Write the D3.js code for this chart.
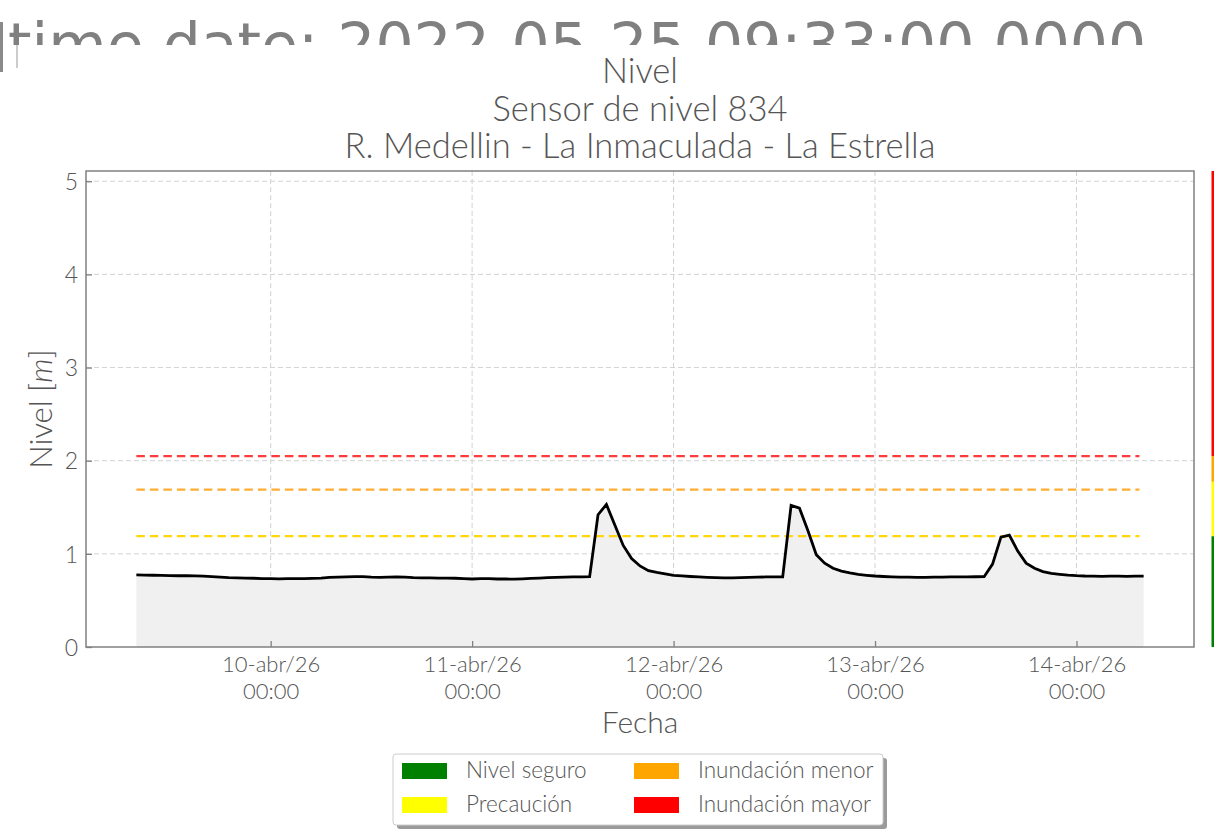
<!DOCTYPE html>
<html><head><meta charset="utf-8">
<script src="https://cdn.jsdelivr.net/npm/d3@7"></script>
<style>
html,body{margin:0;padding:0;background:#fff;}
svg{display:block;}
text{font-family:Lato,"Open Sans",sans-serif;font-weight:300;}
</style></head>
<body><svg id="chart" width="1214" height="833"></svg>
<script>
// ---- data ----
const headerText = "time date: 2022-05-25 09:33:00.0000";
const titleLines = ["Nivel", "Sensor de nivel 834", "R. Medellin - La Inmaculada - La Estrella"];
const xLabel = "Fecha";
const seriesStart = "2026-04-09T08:00:00"; // hourly readings
const nivel = [
 0.775,0.772,0.770,0.768,0.767,0.765,0.765,0.763,0.760,0.755,
 0.750,0.745,0.743,0.740,0.738,0.735,0.733,0.732,0.733,0.735,
 0.735,0.737,0.740,0.747,0.750,0.752,0.755,0.755,0.750,0.748,
 0.750,0.752,0.750,0.745,0.742,0.742,0.740,0.740,0.738,0.735,
 0.730,0.735,0.733,0.730,0.730,0.728,0.732,0.737,0.740,0.745,
 0.748,0.750,0.752,0.753,0.755,1.420,1.530,1.310,1.090,0.950,
 0.870,0.820,0.800,0.785,0.770,0.763,0.757,0.752,0.748,0.745,
 0.742,0.742,0.745,0.748,0.750,0.752,0.753,0.753,1.520,1.490,
 1.250,0.990,0.900,0.845,0.815,0.795,0.780,0.770,0.762,0.757,
 0.753,0.750,0.750,0.748,0.748,0.750,0.750,0.752,0.753,0.753,
 0.754,0.755,0.890,1.180,1.200,1.030,0.900,0.845,0.810,0.790,
 0.780,0.772,0.766,0.762,0.760,0.758,0.760,0.760,0.758,0.760,
 0.760
];
const thresholdNames = ["Nivel seguro", "Precaución", "Inundación menor", "Inundación mayor"];
const thresholdColors = ["#008000", "#ffff00", "#ffa500", "#ff0000"];
const thresholdLineValues = [1.19, 1.69, 2.05];          // Precaución, menor, mayor
const thresholdLineColors = ["#ffd60a", "#ffad33", "#ff3b3b"];
const bandLimits = [0, 1.19, 1.775, 2.05, 5.11];
const yTicks = [0, 1, 2, 3, 4, 5];
const xTickDates = ["2026-04-10T00:00:00","2026-04-11T00:00:00","2026-04-12T00:00:00","2026-04-13T00:00:00","2026-04-14T00:00:00"];
const xTickLine1 = ["10-abr/26","11-abr/26","12-abr/26","13-abr/26","14-abr/26"];
const xTickLine2 = ["00:00","00:00","00:00","00:00","00:00"];
const xDomain = ["2026-04-09T02:00:00", "2026-04-14T14:00:00"];
const yDomain = [0, 5.11];

// ---- layout ----
const L = 86, R = 1194, T = 171, B = 647;
const svg = d3.select("#chart");
const textColor = "#555";

const start = new Date(seriesStart);
const data = nivel.map((v, i) => ({t: new Date(start.getTime() + i * 3600e3), v}));

const x = d3.scaleTime().domain(xDomain.map(d => new Date(d))).range([L, R]);
const y = d3.scaleLinear().domain(yDomain).range([B, T]);

// header (clipped)
const defs = svg.append("defs");
defs.append("clipPath").attr("id", "hclip").append("rect").attr("x", 0).attr("y", 0).attr("width", 1214).attr("height", 45);
svg.append("text").attr("clip-path", "url(#hclip)")
  .attr("x", 8).attr("y", 66)
  .style("font-family", "DejaVu Sans").style("font-weight", "normal").style("font-size", "60px").attr("fill", "#808080")
  .text(headerText);
svg.append("rect").attr("x", 0).attr("y", 22).attr("width", 3).attr("height", 50).attr("fill", "#8a8a8a");
svg.append("line").attr("x1", 17).attr("x2", 17).attr("y1", 45).attr("y2", 68).attr("stroke", "#999").attr("stroke-width", 1);

// title
svg.append("g").selectAll("text").data(titleLines).join("text")
  .attr("x", (L + R) / 2).attr("y", (d, i) => 83 + i * 37.5)
  .attr("text-anchor", "middle").attr("fill", textColor)
  .style("font-size", "34.5px").text(d => d);

// grid
const grid = svg.append("g");
grid.selectAll("line.gy").data(yTicks.slice(1)).join("line")
  .attr("x1", L).attr("x2", R).attr("y1", d => y(d)).attr("y2", d => y(d))
  .attr("stroke", "#d2d2d2").attr("stroke-width", 1).attr("stroke-dasharray", "5,3");
grid.selectAll("line.gx").data(xTickDates).join("line")
  .attr("x1", d => x(new Date(d))).attr("x2", d => x(new Date(d))).attr("y1", T).attr("y2", B)
  .attr("stroke", "#d2d2d2").attr("stroke-width", 1).attr("stroke-dasharray", "5,3");

// area + line
svg.append("path").datum(data)
  .attr("d", d3.area().x(d => x(d.t)).y0(y(0)).y1(d => y(d.v)))
  .attr("fill", "#f0f0f0");

// threshold dashed lines
const t0 = data[0].t, t1 = new Date(data[data.length - 1].t.getTime() - 1800e3);
svg.append("g").selectAll("line").data(thresholdLineValues).join("line")
  .attr("x1", x(t0)).attr("x2", x(t1))
  .attr("y1", d => y(d)).attr("y2", d => y(d))
  .attr("stroke", (d, i) => thresholdLineColors[i]).attr("stroke-width", 2.2)
  .attr("stroke-dasharray", "8.5,5");

svg.append("path").datum(data)
  .attr("d", d3.line().x(d => x(d.t)).y(d => y(d.v)))
  .attr("fill", "none").attr("stroke", "#000").attr("stroke-width", 2.8).attr("stroke-linejoin", "miter");

// frame
svg.append("rect").attr("x", L).attr("y", T).attr("width", R - L).attr("height", B - T)
  .attr("fill", "none").attr("stroke", "#808080").attr("stroke-width", 1.5);

// y axis
const yAxis = d3.axisLeft(y).tickValues(yTicks).tickSizeInner(-6).tickSizeOuter(0).tickPadding(8).tickFormat(d3.format("d"));
const gy = svg.append("g").attr("transform", `translate(${L},0)`).call(yAxis);
gy.select(".domain").remove();
gy.selectAll(".tick line").attr("stroke", "#808080").attr("stroke-width", 1.3);
gy.selectAll(".tick text").attr("fill", textColor).style("font-size", "23px").style("font-family", "Lato").attr("dy", "0.36em");

// x axis
const xAxis = d3.axisBottom(x).tickValues(xTickDates.map(d => new Date(d))).tickSizeInner(-6).tickSizeOuter(0).tickFormat(() => "");
const gx = svg.append("g").attr("transform", `translate(0,${B})`).call(xAxis);
gx.select(".domain").remove();
gx.selectAll(".tick line").attr("stroke", "#808080").attr("stroke-width", 1.3);
gx.selectAll(".tick text").remove();
gx.selectAll(".tick").each(function(d, i) {
  const g = d3.select(this);
  g.append("text").attr("y", 25).attr("text-anchor", "middle").attr("fill", textColor)
    .style("font-size", "22px").text(xTickLine1[i]);
  g.append("text").attr("y", 52).attr("text-anchor", "middle").attr("fill", textColor)
    .style("font-size", "22px").text(xTickLine2[i]);
});

// axis labels
svg.append("text").attr("x", (L + R) / 2).attr("y", 733).attr("text-anchor", "middle")
  .attr("fill", textColor).style("font-size", "30px").text(xLabel);
const yl = svg.append("text").attr("transform", `translate(52,${(T + B) / 2}) rotate(-90)`)
  .attr("text-anchor", "middle").attr("fill", textColor).style("font-size", "31px");
yl.append("tspan").text("Nivel [");
yl.append("tspan").style("font-style", "italic").text("m");
yl.append("tspan").text("]");

// right color band
svg.append("g").selectAll("rect").data(thresholdColors).join("rect")
  .attr("x", 1211.5).attr("width", 3)
  .attr("y", (d, i) => y(bandLimits[i + 1])).attr("height", (d, i) => y(bandLimits[i]) - y(bandLimits[i + 1]))
  .attr("fill", d => d);

// legend
const lg = svg.append("g");
lg.append("rect").attr("x", 397).attr("y", 758).attr("width", 490).attr("height", 71).attr("rx", 3)
  .attr("fill", "#9a9a9a");
lg.append("rect").attr("x", 393).attr("y", 754).attr("width", 490).attr("height", 71).attr("rx", 3)
  .attr("fill", "#fff").attr("stroke", "#cccccc").attr("stroke-width", 1);
const legendItems = [0, 1, 2, 3].map(i => ({name: thresholdNames[i], color: thresholdColors[i], col: i < 2 ? 0 : 1, row: i % 2}));
const li = lg.selectAll("g.item").data(legendItems).join("g")
  .attr("transform", d => `translate(${d.col ? 634 : 402},${d.row ? 797 : 763})`);
li.append("rect").attr("width", 45).attr("height", 16).attr("fill", d => d.color);
li.append("text").attr("x", 64).attr("y", 15).attr("fill", textColor).style("font-size", "22.5px").text(d => d.name);
</script>
</body></html>
